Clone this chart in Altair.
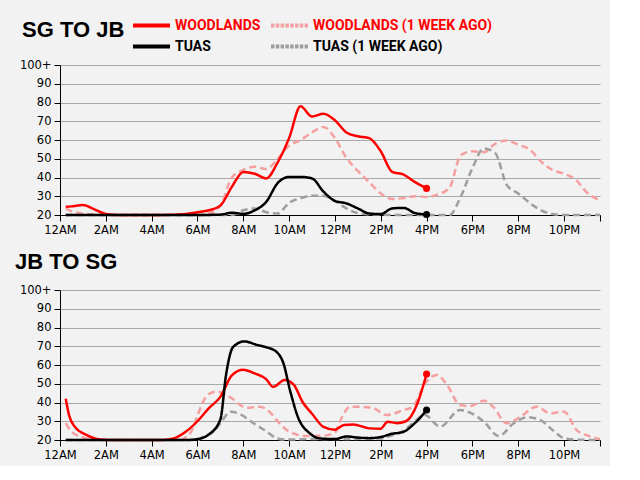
import altair as alt
import pandas as pd

# ---------------- data ----------------
SERIES = ["WOODLANDS", "WOODLANDS (1 WEEK AGO)", "TUAS", "TUAS (1 WEEK AGO)"]
PANEL_TITLES = ["SG TO JB", "JB TO SG"]

X_TICK_VALUES = [0, 2, 4, 6, 8, 10, 12, 14, 16, 18, 20, 22, 23.57]
X_TICK_LABELS = ["12AM", "2AM", "4AM", "6AM", "8AM", "10AM", "12PM", "2PM", "4PM", "6PM", "8PM", "10PM", ""]
Y_TICK_VALUES = [20, 30, 40, 50, 60, 70, 80, 90, 100]
Y_TICK_LABELS = ["20", "30", "40", "50", "60", "70", "80", "90", "100+"]

# SG -> JB
SG_WOOD_H = [0.25, 0.5, 1.0, 1.5, 2.0, 2.5, 3.5, 4.5, 5.5, 6.0, 6.5, 7.0, 7.5, 8.0, 8.5, 9.0, 9.5, 10.0,
             10.5, 11.0, 11.5, 12.0, 12.5, 13.0, 13.5, 14.0, 14.5, 15.0, 15.5, 16.0]
SG_WOOD_V = [24.4, 24.6, 25.3, 23.0, 20.5, 20, 20, 20, 20.6, 21.5, 22.5, 25, 35, 43, 42, 39.5, 48, 61,
             78, 72.5, 74, 70.5, 64, 62, 61, 54, 43, 41.5, 37.5, 34.2]

SG_WOOD_WK_H = [0.25, 0.5, 1.0, 1.5, 2.0, 4.0, 6.0, 6.5, 7.0, 7.5, 8.0, 8.5, 9.0, 9.5, 10.0, 10.5, 11.0,
                11.5, 12.0, 12.5, 13.0, 13.5, 14.0, 14.5, 15.0, 15.5, 16.0, 16.5, 17.0, 17.5, 18.0, 18.5,
                19.0, 19.5, 20.0, 20.5, 21.0, 21.5, 22.0, 22.5, 23.0, 23.57]
SG_WOOD_WK_V = [23.5, 22, 20.8, 20.3, 20, 20, 20, 21, 25, 40, 44, 45.8, 44.5, 50, 57, 60, 64,
                67, 61, 50.5, 43.5, 37.5, 31.5, 28.5, 29, 30, 29.6, 31, 34.5, 52, 54, 53.5,
                58, 59.7, 57.5, 55, 48.5, 44, 42, 39, 32, 27.8]

SG_TUAS_H = [0.25, 3.0, 6.0, 7.0, 7.5, 8.0, 8.5, 9.0, 9.5, 10.0, 10.5, 11.0, 11.5, 12.0, 12.5, 13.0,
             13.5, 14.0, 14.5, 15.0, 15.5, 16.0]
SG_TUAS_V = [20, 20, 20, 20.2, 21.2, 20.6, 22.5, 27, 37, 40.3, 40.3, 39.5, 32.5, 27.5, 26.2, 23.5,
             20.8, 20.5, 23.5, 23.8, 21, 20.3]

SG_TUAS_WK_H = [0.25, 4.0, 7.5, 8.0, 8.5, 9.0, 9.5, 10.0, 10.5, 11.0, 11.5, 12.0, 12.5, 13.0, 13.5,
                15.0, 17.0, 17.5, 18.0, 18.5, 19.0, 19.5, 20.0, 20.5, 21.0, 21.5, 22.0, 23.57]
SG_TUAS_WK_V = [20, 20, 20, 22.5, 23.5, 21.5, 20.8, 26.5, 29, 30.3, 30.3, 27.5, 23.5, 21, 20.3,
                20, 20, 30, 45, 55.5, 53, 36, 31.5, 26.5, 22.5, 20.5, 20, 20]

# JB -> SG
JB_WOOD_H = [0.25, 0.4, 0.65, 1.15, 1.75, 2.5, 4.5, 5.0, 5.5, 6.0, 6.5, 7.0, 7.5, 8.0, 8.5, 9.0, 9.3,
             9.8, 10.2, 10.6, 11.0, 11.5, 12.0, 12.4, 12.8, 13.5, 14.0, 14.3, 14.7, 15.1, 15.6, 16.0]
JB_WOOD_V = [42, 33, 27, 22.7, 20.3, 20, 20, 21, 24.5, 30, 37, 43, 54.5, 57.5, 55.5, 52.5, 48.3,
             52, 49.5, 40, 34, 27, 25.5, 28, 28.3, 26.2, 26, 29.8, 29, 30, 39.5, 55.2]

JB_WOOD_WK_H = [0.25, 0.5, 1.0, 1.5, 2.0, 5.25, 5.5, 5.75, 6.0, 6.25, 6.5, 6.85, 7.4, 8.15, 8.7, 9.15,
                9.45, 10.0, 10.75, 11.5, 12.0, 12.3, 12.66, 13.4, 13.7, 14.25, 15.0, 15.4, 15.93,
                16.45, 16.9, 17.45, 17.9, 18.5, 18.9, 19.5, 20.1, 20.8, 21.4, 22.0, 22.55, 23.1, 23.57]
JB_WOOD_WK_V = [29, 24.5, 21.4, 20.2, 20, 20, 21.5, 25, 33, 40.5, 44.5, 45.8, 43, 37.2, 37.8, 35,
                30.7, 24.5, 22.1, 22.3, 24, 32, 37.8, 37.5, 36.9, 33.3, 36, 37.8, 50,
                54.7, 49.3, 38.7, 38.1, 41, 37.8, 28.9, 32.4, 37.8, 34.2, 35.1, 25.3, 22.1, 20.4]

JB_TUAS_H = [0.25, 3.0, 5.5, 6.0, 6.5, 7.0, 7.25, 7.55, 8.05, 8.6, 9.0, 9.45, 9.75, 10.05, 10.4, 10.9,
             11.35, 12.0, 12.5, 13.0, 13.5, 14.0, 14.45, 15.0, 15.4, 15.7, 16.0]
JB_TUAS_V = [20, 20, 20, 20.5, 23, 31, 55, 69.5, 72.6, 70.7, 69.5, 67, 61, 46, 31.8, 23.6,
             20.8, 20.5, 21.9, 21.3, 21, 21.6, 23.2, 24.4, 28, 31.6, 36]

JB_TUAS_WK_H = [0.25, 4.0, 6.0, 6.25, 6.7, 7.0, 7.45, 7.9, 8.15, 8.5, 8.9, 9.45, 9.8, 11.0, 12.0, 13.0,
                14.0, 14.5, 15.0, 15.5, 15.9, 16.6, 17.45, 17.9, 18.5, 19.15, 19.8, 20.4, 20.95, 21.5,
                22.0, 22.5, 23.57]
JB_TUAS_WK_V = [20, 20, 20, 21.8, 24.4, 29, 35.1, 33.5, 31.6, 28.5, 25.5, 21, 20.2, 20.5, 20.5, 20.6,
                20.8, 22.5, 25, 30, 33.5, 27.1, 36, 34.6, 29.8, 22.1, 28.9, 32.1, 30.7, 25.3,
                20.9, 20.2, 20]

COLORS = ["#ff0000", "#f5a0a0", "#000000", "#9e9e9e"]
DASH = [7, 4]

# ---------------- build tables ----------------
def table(pairs):
    rows = []
    for s, hs, vs in pairs:
        for h, v in zip(hs, vs):
            rows.append({"series": s, "hour": h, "value": v})
    return pd.DataFrame(rows)

top_df = table([(SERIES[0], SG_WOOD_H, SG_WOOD_V), (SERIES[1], SG_WOOD_WK_H, SG_WOOD_WK_V),
                (SERIES[2], SG_TUAS_H, SG_TUAS_V), (SERIES[3], SG_TUAS_WK_H, SG_TUAS_WK_V)])
bot_df = table([(SERIES[0], JB_WOOD_H, JB_WOOD_V), (SERIES[1], JB_WOOD_WK_H, JB_WOOD_WK_V),
                (SERIES[2], JB_TUAS_H, JB_TUAS_V), (SERIES[3], JB_TUAS_WK_H, JB_TUAS_WK_V)])

x_label_expr = "{}[indexof({}, datum.value)]".format(
    "[" + ",".join("'%s'" % l for l in X_TICK_LABELS) + "]",
    "[" + ",".join(str(v) for v in X_TICK_VALUES) + "]")
y_label_expr = "{}[indexof({}, datum.value)]".format(
    "[" + ",".join("'%s'" % l for l in Y_TICK_LABELS) + "]",
    "[" + ",".join(str(v) for v in Y_TICK_VALUES) + "]")

X = alt.X("hour:Q", scale=alt.Scale(domain=[0, X_TICK_VALUES[-1]], nice=False, zero=False),
          axis=alt.Axis(values=X_TICK_VALUES, labelExpr=x_label_expr, title=None, grid=False,
                        domainColor="black", tickColor="black", tickSize=6, labelPadding=3,
                        labelFont="DejaVu Sans", labelFontSize=11.5, labelColor="black",
                        labelFlush=False, labelOverlap=False))
Y = alt.Y("value:Q", scale=alt.Scale(domain=[20, 100], nice=False, zero=False),
          axis=alt.Axis(values=Y_TICK_VALUES, labelExpr=y_label_expr, title=None, grid=True,
                        gridColor="#a8a8a8", gridWidth=1, domainColor="black", tickColor="black",
                        tickSize=6, labelPadding=3, labelFont="DejaVu Sans", labelFontSize=11.5,
                        labelColor="black"))

LEG_COMMON = dict(orient="none", padding=0, title=None, labelFont="Roboto",
                  labelFontSize=14, labelFontWeight="bold", symbolType="stroke", symbolSize=1369,
                  symbolStrokeWidth=4, labelOffset=3, labelLimit=400)
LEG_POS = [(71, -60), (209, -60), (71, -39), (209, -39)]
LEG_DASH = [[1, 0], [3.5, 1.3], [1, 0], [3.5, 1.3]]
LABEL_COLORS = ["#ff0000", "#ff0000", "#000000", "#000000"]
TITLE_DX = [-38, -45]
TITLE_OFFSET = [17, 10]


def legend(i, show):
    if not show:
        return None
    return alt.Legend(legendX=LEG_POS[i][0], legendY=LEG_POS[i][1], labelColor=LABEL_COLORS[i],
                      symbolStrokeColor=COLORS[i], symbolDash=LEG_DASH[i], **LEG_COMMON)


def panel(df, idx, show_legend):
    base = alt.Chart(df)
    l_w = base.transform_filter(alt.datum.series == SERIES[0]).mark_line(
        strokeWidth=2.5, interpolate="monotone").encode(
        x=X, y=Y, color=alt.Color("series:N", scale=alt.Scale(domain=[SERIES[0]], range=[COLORS[0]]),
                                  legend=legend(0, show_legend)))
    l_ww = base.transform_filter(alt.datum.series == SERIES[1]).mark_line(
        strokeWidth=2.5, interpolate="monotone", strokeDash=DASH).encode(
        x=X, y=Y, stroke=alt.Stroke("series:N", scale=alt.Scale(domain=[SERIES[1]], range=[COLORS[1]]),
                                    legend=legend(1, show_legend)))
    l_t = base.transform_filter(alt.datum.series == SERIES[2]).mark_line(
        strokeWidth=2.5, interpolate="monotone", color=COLORS[2]).encode(
        x=X, y=Y, strokeDash=alt.StrokeDash("series:N", scale=alt.Scale(domain=[SERIES[2]], range=[[1, 0]]),
                                            legend=legend(2, show_legend)))
    l_tw = base.transform_filter(alt.datum.series == SERIES[3]).mark_line(
        strokeWidth=2.5, interpolate="monotone", color=COLORS[3], strokeDash=DASH).encode(
        x=X, y=Y, opacity=alt.Opacity("series:N", scale=alt.Scale(domain=[SERIES[3]], range=[1]),
                                      legend=legend(3, show_legend)))
    # end dots of today's series
    ends = base.transform_filter(
        (alt.datum.series == SERIES[0]) | (alt.datum.series == SERIES[2])
    ).transform_joinaggregate(maxh="max(hour)", groupby=["series"]).transform_filter(
        alt.datum.hour == alt.datum.maxh)
    dot_w = ends.transform_filter(alt.datum.series == SERIES[0]).mark_circle(
        size=50, opacity=1, color=COLORS[0]).encode(x=X, y=Y)
    dot_t = ends.transform_filter(alt.datum.series == SERIES[2]).mark_circle(
        size=50, opacity=1, color=COLORS[2]).encode(x=X, y=Y)
    return alt.layer(l_ww, l_tw, l_w, l_t, dot_w, dot_t).properties(
        width=540, height=150,
        title=alt.TitleParams(PANEL_TITLES[idx], anchor="start", frame="group", dx=TITLE_DX[idx],
                              font="Liberation Sans", fontSize=22, fontWeight="bold",
                              color="black", offset=TITLE_OFFSET[idx])
    )


top = panel(top_df, 0, True)
bottom = panel(bot_df, 1, False)

chart = alt.vconcat(top, bottom, spacing=15).properties(
    padding={"left": 15, "top": 5, "right": 5, "bottom": 5}
).configure(background="#f2f2f2").configure_view(stroke=None)

chart.save("out.html", embed_options={"renderer": "svg", "actions": False})
